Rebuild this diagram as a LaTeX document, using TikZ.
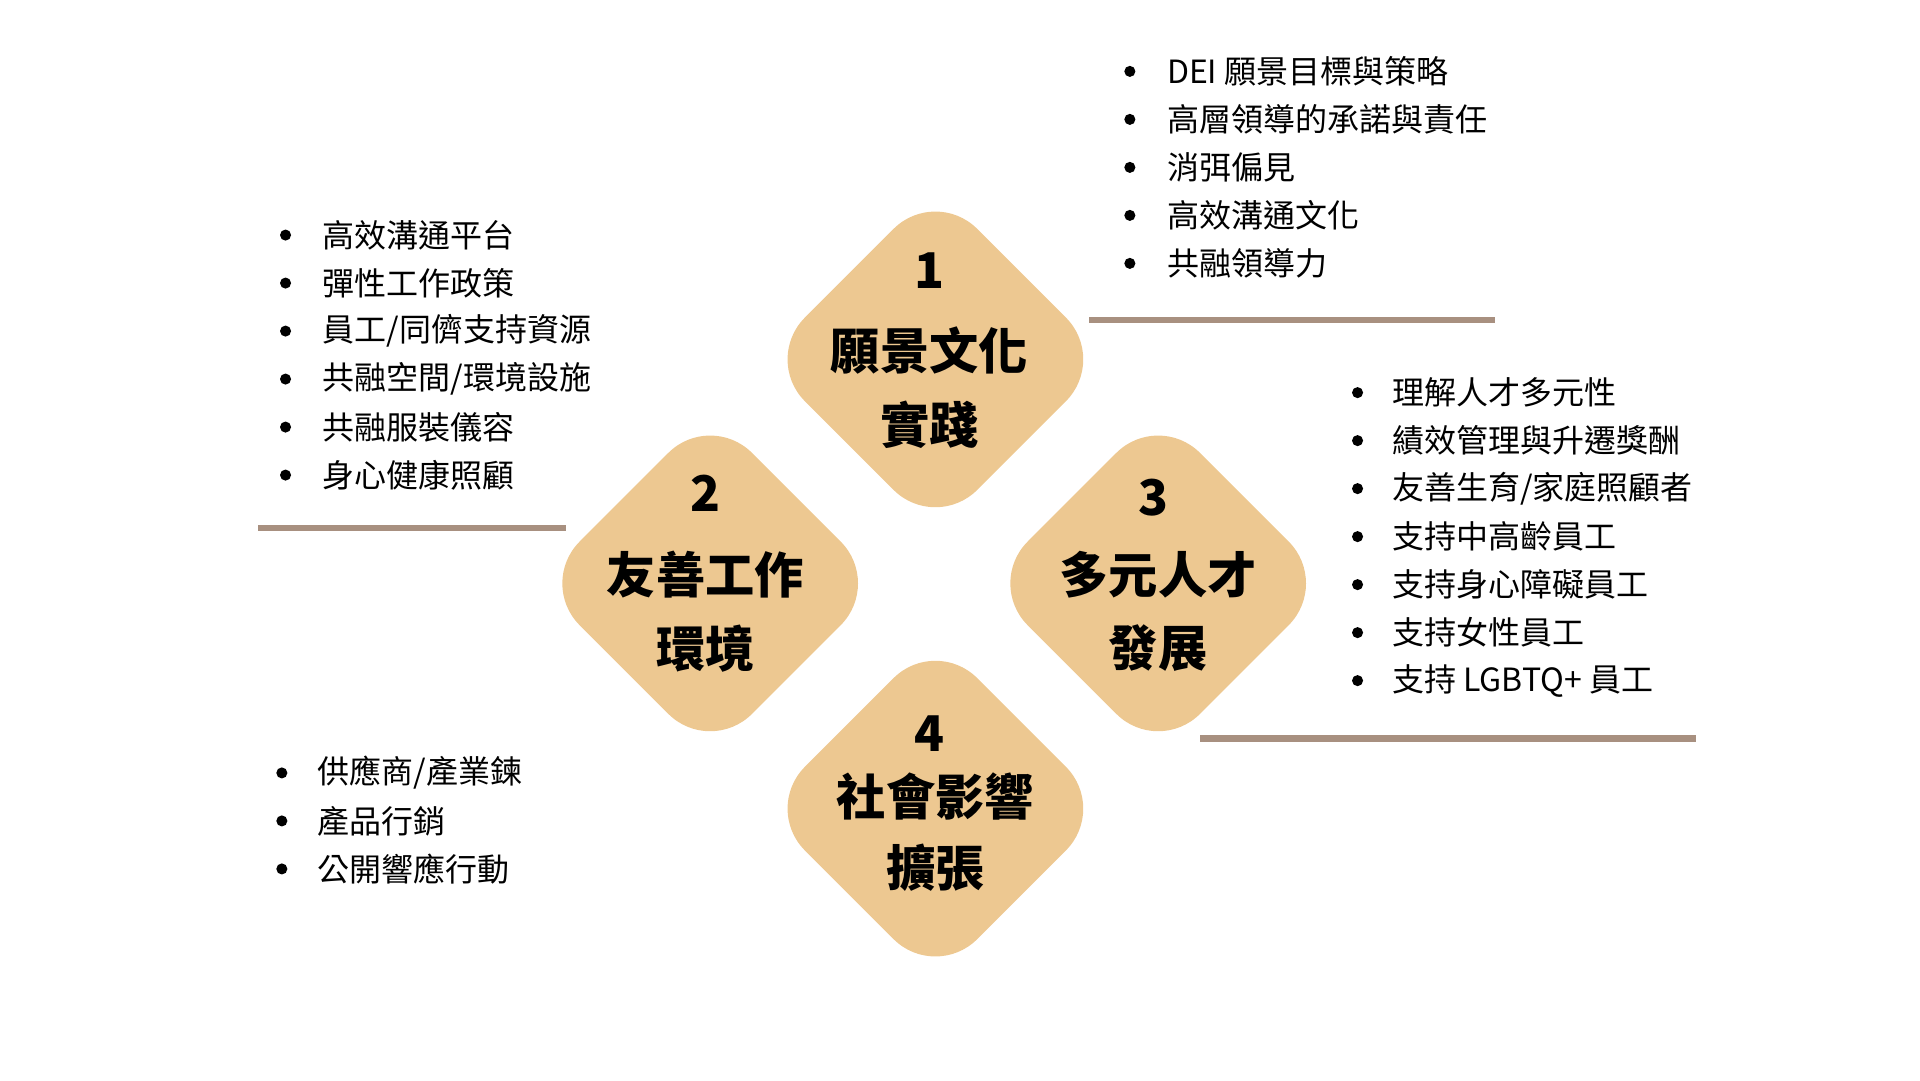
\documentclass[tikz,border=0pt]{standalone}
\usepackage{fontspec}
\setmainfont{Noto Sans CJK TC}
\definecolor{dia}{HTML}{EDC891}
\definecolor{ln}{HTML}{A89080}
\tikzset{
  diabox/.style={fill=dia,draw=none,rotate=45,minimum width=198pt,minimum height=198pt,rounded corners=48pt},
  ttl/.style={font=\fontsize{40}{44}\selectfont\bfseries,text=black},
  itm/.style={anchor=west,font=\fontsize{26}{30}\selectfont,text=black,inner sep=0pt},
  rule/.style={draw=ln,line width=5pt}
}
\begin{document}
\begin{tikzpicture}[x=1pt,y=-1pt]
\useasboundingbox (0,0) rectangle (1560,878);
\coordinate (a1) at (885,260); \coordinate (b1) at (1215,260);
\coordinate (a2) at (210,429); \coordinate (b2) at (460,429);
\coordinate (a3) at (975,600); \coordinate (b3) at (1378,600);
\draw[rule] (a1) -- (b1); \draw[rule] (a2) -- (b2); \draw[rule] (a3) -- (b3);
\node[diabox] (d1) at (760,292) {};
\node[diabox] (d2) at (577,474) {};
\node[diabox] (d3) at (941,474) {};
\node[diabox] (d4) at (760,657) {};
\node[ttl] (n1) at (755,220) {1};
\node[ttl] (t1a) at (755,285) {願景文化};
\node[ttl] (t1b) at (755,345) {實踐};
\node[ttl] (n2) at (573,401) {2};
\node[ttl] (t2a) at (573,467) {友善工作};
\node[ttl] (t2b) at (573,527) {環境};
\node[ttl] (n3) at (937,404) {3};
\node[ttl] (t3a) at (941,467) {多元人才};
\node[ttl] (t3b) at (941,527) {發展};
\node[ttl] (n4) at (755,596) {4};
\node[ttl] (t4a) at (760,647) {社會影響};
\node[ttl] (t4b) at (760,705) {擴張};
\foreach \t [count=\i] in {DEI 願景目標與策略,高層領導的承諾與責任,消弭偏見,高效溝通文化,共融領導力}{
  \fill (918,{58+39*(\i-1)}) circle (4.5);
  \node[itm] (la\i) at (948,{58+39*(\i-1)}) {\t};}
\foreach \t [count=\i] in {高效溝通平台,彈性工作政策,員工/同儕支持資源,共融空間/環境設施,共融服裝儀容,身心健康照顧}{
  \fill (232,{191+39*(\i-1)}) circle (4.5);
  \node[itm] (lb\i) at (262,{191+39*(\i-1)}) {\t};}
\foreach \t [count=\i] in {理解人才多元性,績效管理與升遷獎酬,友善生育/家庭照顧者,支持中高齡員工,支持身心障礙員工,支持女性員工,支持 LGBTQ+ 員工}{
  \fill (1103,{319+39*(\i-1)}) circle (4.5);
  \node[itm] (lc\i) at (1131,{319+39*(\i-1)}) {\t};}
\foreach \t [count=\i] in {供應商/產業鍊,產品行銷,公開響應行動}{
  \fill (229,{628+39*(\i-1)}) circle (4.5);
  \node[itm] (ld\i) at (258,{628+39*(\i-1)}) {\t};}
\end{tikzpicture}
\end{document}
